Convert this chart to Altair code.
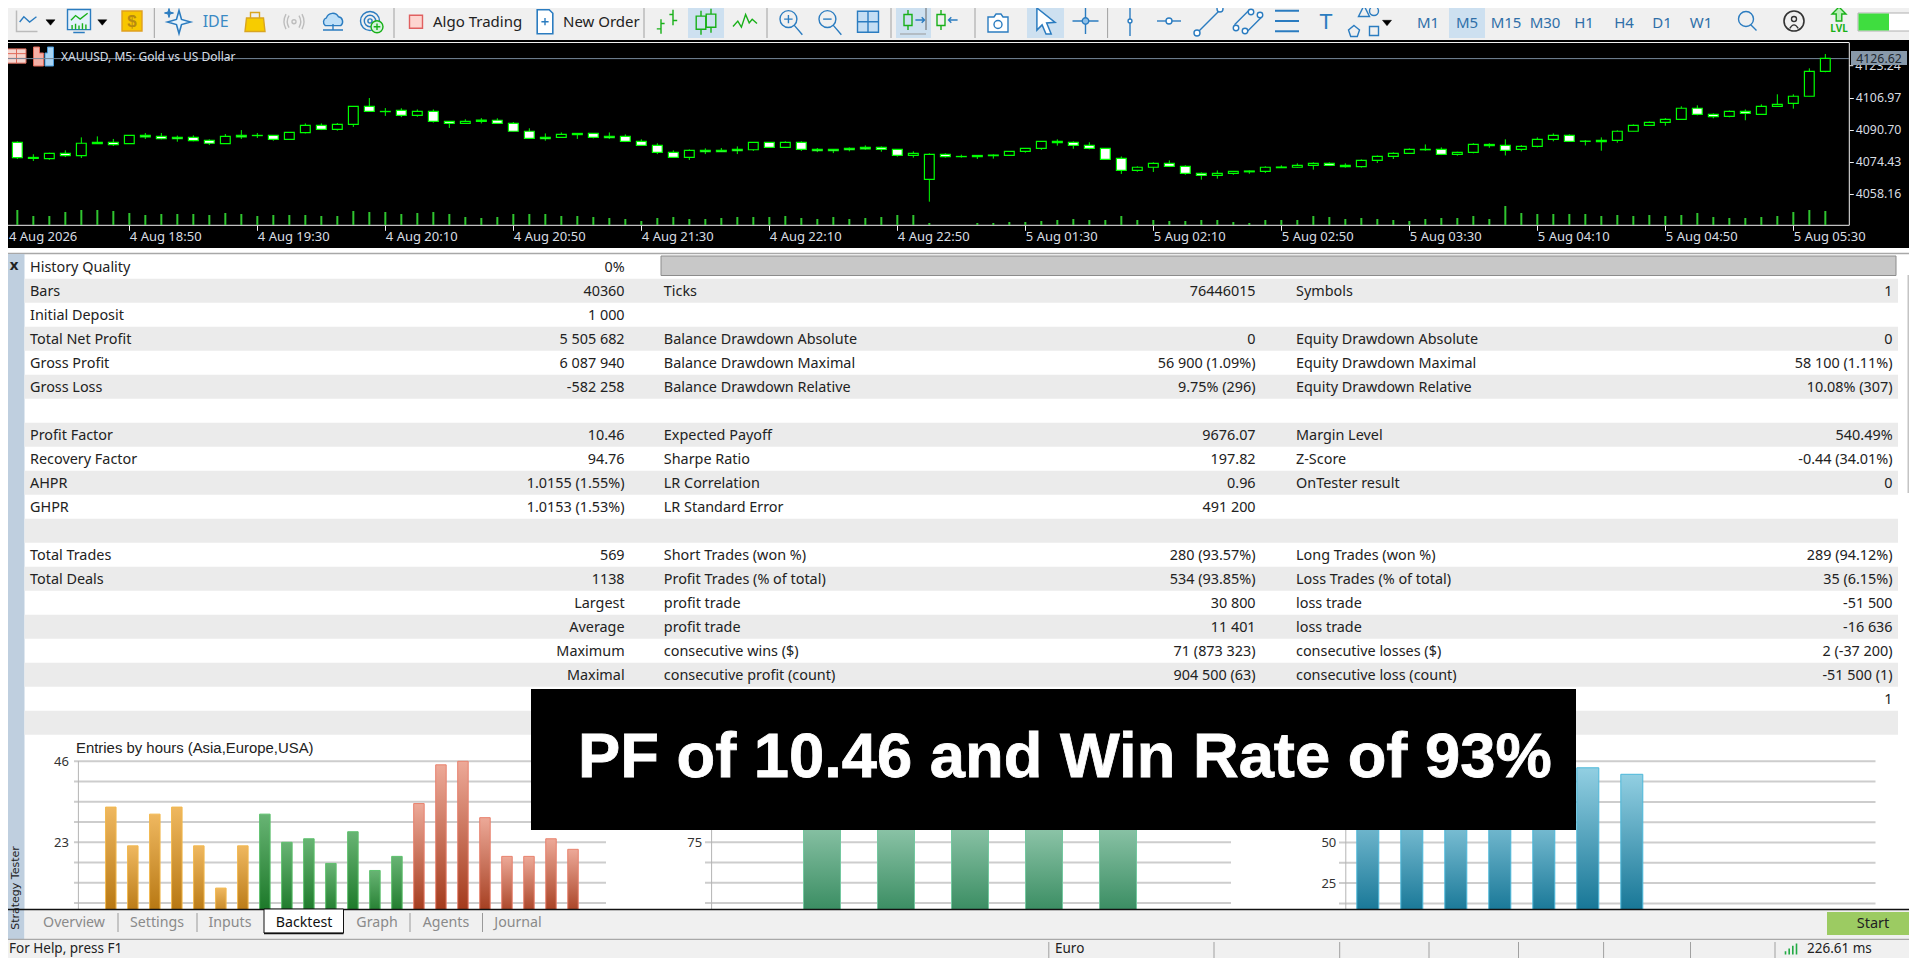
import json
import altair as alt
import pandas as pd

# ---------- candlestick data (XAUUSD M5) ----------
opens = [4085.3,4084.3,4076.6,4076.0,4078.7,4077.5,4084.3,4084.3,4083.6,4087.8,4087.3,4086.8,4086.8,4085.3,4083.6,4087.8,4087.8,4087.8,4085.8,4089.2,
4092.9,4090.9,4093.4,4102.6,4100.0,4100.5,4098.0,4100.0,4094.9,4093.9,4095.6,4095.5,4093.9,4089.9,4086.8,4086.8,4088.8,4088.8,4087.3,4087.3,
4084.8,4082.7,4079.2,4076.6,4080.2,4080.2,4080.7,4080.5,4084.3,4081.7,4084.3,4080.7,4080.7,4081.2,4081.7,4081.7,4080.7,4077.6,4065.4,4078.2,
4077.1,4077.6,4077.8,4077.6,4079.7,4081.2,4084.8,4084.3,4082.7,4081.2,4076.1,4070.0,4071.6,4073.6,4072.1,4068.5,4067.5,4068.5,4069.7,4069.5,
4071.7,4071.6,4072.6,4073.6,4072.6,4071.9,4075.1,4077.1,4078.7,4080.7,4080.7,4078.2,4079.2,4083.2,4082.7,4080.7,4082.2,4085.8,4087.8,4084.9,
4085.3,4085.3,4089.9,4092.9,4094.4,4096.0,4101.6,4098.5,4097.5,4100.0,4098.5,4102.6,4104.1,4107.7,4120.4]
highs = [4085.3,4084.8,4078.2,4079.0,4080.2,4086.8,4087.3,4086.0,4087.8,4089.0,4089.0,4087.7,4087.8,4085.8,4088.5,4090.5,4089.0,4087.8,4089.3,4093.9,
4093.9,4094.1,4102.6,4106.8,4101.7,4101.6,4101.0,4101.0,4094.9,4096.0,4096.6,4096.5,4094.6,4091.4,4088.8,4089.3,4088.8,4088.8,4089.3,4088.3,
4085.8,4083.8,4080.2,4080.7,4081.2,4081.4,4082.2,4084.3,4084.3,4084.8,4084.8,4081.4,4080.7,4081.7,4082.7,4082.2,4080.7,4079.7,4078.7,4078.7,
4078.0,4077.6,4078.2,4079.7,4081.2,4084.8,4085.8,4084.8,4084.3,4081.2,4077.1,4072.1,4074.1,4075.1,4072.6,4069.0,4070.0,4069.5,4070.0,4072.1,
4072.6,4073.6,4074.1,4074.1,4073.6,4075.6,4077.6,4079.2,4081.2,4083.2,4081.7,4079.5,4083.8,4083.8,4085.8,4082.9,4086.8,4088.8,4088.3,4085.4,
4086.8,4090.4,4093.4,4094.9,4096.6,4102.6,4103.1,4099.0,4100.5,4101.0,4103.6,4108.7,4108.7,4121.9,4129.2]
lows = [4084.1,4075.8,4074.8,4075.4,4076.8,4076.3,4083.6,4082.4,4083.6,4086.0,4085.8,4084.6,4084.8,4082.9,4083.6,4086.0,4086.5,4085.1,4085.8,4088.8,
4090.5,4090.2,4092.1,4100.0,4097.7,4097.1,4097.3,4094.3,4091.6,4093.6,4093.9,4093.6,4089.9,4086.0,4085.1,4086.6,4086.0,4086.3,4086.0,4084.4,
4082.4,4078.3,4076.3,4075.3,4078.3,4079.5,4078.3,4079.9,4081.5,4081.5,4079.9,4079.3,4078.8,4079.7,4080.5,4079.5,4077.0,4076.5,4054.1,4076.5,
4076.5,4075.8,4076.0,4077.5,4079.0,4080.4,4082.6,4081.0,4080.7,4075.6,4068.2,4069.3,4069.2,4071.7,4067.8,4065.3,4065.8,4067.8,4068.3,4068.7,
4071.4,4071.4,4070.4,4072.2,4071.4,4071.4,4073.8,4075.8,4078.7,4080.0,4077.8,4077.5,4078.7,4081.5,4077.6,4079.7,4081.7,4084.8,4084.6,4082.7,
4080.0,4084.1,4089.9,4092.9,4092.7,4096.0,4098.0,4096.5,4097.0,4095.5,4098.5,4102.6,4101.4,4107.7,4119.9]
closes = [4084.1,4076.5,4076.1,4078.7,4077.5,4083.8,4083.6,4083.1,4087.8,4087.1,4086.1,4086.1,4085.1,4083.8,4087.3,4087.1,4087.7,4085.8,4089.3,4092.9,
4090.9,4093.4,4102.6,4100.0,4099.9,4098.0,4100.0,4094.9,4093.9,4094.9,4094.9,4093.9,4089.9,4086.3,4086.1,4088.3,4088.2,4086.8,4086.6,4084.8,
4082.7,4079.2,4076.6,4080.2,4079.5,4079.5,4080.0,4084.3,4081.7,4084.3,4080.7,4080.0,4080.0,4080.5,4081.0,4080.7,4077.6,4078.7,4078.2,4077.0,
4077.0,4077.0,4077.5,4079.7,4081.2,4084.8,4084.1,4082.7,4081.2,4075.6,4070.0,4071.6,4073.6,4072.1,4068.5,4067.5,4068.5,4069.5,4069.3,4071.6,
4071.4,4072.6,4073.6,4072.6,4071.9,4075.1,4077.1,4078.7,4080.7,4080.5,4078.2,4079.2,4083.2,4082.6,4080.2,4082.2,4085.8,4087.8,4084.8,4084.8,
4084.6,4089.9,4092.9,4094.4,4096.0,4101.6,4098.5,4097.3,4100.0,4099.0,4102.6,4103.6,4107.7,4120.4,4127.0]
tick_volume = [0,45,27,27,39,45,45,42,36,30,33,33,33,30,36,33,27,30,30,30,27,27,42,39,39,33,36,39,33,24,
21,24,33,33,33,27,27,24,21,18,12,21,24,18,18,21,24,24,24,27,21,18,24,18,21,24,30,30,6,0,
0,6,6,9,9,12,15,18,15,15,27,15,15,12,12,15,15,9,6,15,15,15,27,24,18,21,18,15,12,18,
21,21,27,18,57,36,33,33,33,33,27,30,27,30,27,30,36,24,21,21,24,27,39,45,42]
price_ticks = [4106.97,4090.70,4074.43,4058.16]
hidden_price_tick = "4123.24"
time_labels = ["4 Aug 2026","4 Aug 18:50","4 Aug 19:30","4 Aug 20:10","4 Aug 20:50","4 Aug 21:30","4 Aug 22:10","4 Aug 22:50",
               "5 Aug 01:30","5 Aug 02:10","5 Aug 02:50","5 Aug 03:30","5 Aug 04:10","5 Aug 04:50","5 Aug 05:30"]

# ---------- report table ----------
a_labels = ["History Quality","Bars","Initial Deposit","Total Net Profit","Gross Profit","Gross Loss","","Profit Factor","Recovery Factor","AHPR","GHPR","",
            "Total Trades","Total Deals","","","","","",""]
a_values = ["0%","40360","1 000","5 505 682","6 087 940","-582 258","","10.46","94.76","1.0155 (1.55%)","1.0153 (1.53%)","",
            "569","1138","Largest","Average","Maximum","Maximal","",""]
b_labels = ["","Ticks","","Balance Drawdown Absolute","Balance Drawdown Maximal","Balance Drawdown Relative","","Expected Payoff","Sharpe Ratio","LR Correlation","LR Standard Error","",
            "Short Trades (won %)","Profit Trades (% of total)","profit trade","profit trade","consecutive wins ($)","consecutive profit (count)","",""]
b_values = ["","76446015","","0","56 900 (1.09%)","9.75% (296)","","9676.07","197.82","0.96","491 200","",
            "280 (93.57%)","534 (93.85%)","30 800","11 401","71 (873 323)","904 500 (63)","",""]
c_labels = ["","Symbols","","Equity Drawdown Absolute","Equity Drawdown Maximal","Equity Drawdown Relative","","Margin Level","Z-Score","OnTester result","","",
            "Long Trades (won %)","Loss Trades (% of total)","loss trade","loss trade","consecutive losses ($)","consecutive loss (count)","",""]
c_values = ["","1","","0","58 100 (1.11%)","10.08% (307)","","540.49%","-0.44 (34.01%)","0","","",
            "289 (94.12%)","35 (6.15%)","-51 500","-16 636","2 (-37 200)","-51 500 (1)","1",""]
band_rows = [1,3,5,7,9,11,13,15,17,19]

# ---------- small bar charts ----------
asia = [33,22,31,33,22,10,22]
europe = [31,23,24,17,26,15,19]
usa = [34,45,46,30,19,19,24,21]
weekdays = [118,112,115,110,114]
months = [80,76,72,78,75,96,92]
grid_hours = [46,40.25,34.5,28.75,23,17.25,11.5,5.75]
grid_days = [150,131.25,112.5,93.75,75,56.25,37.5,18.75]
grid_months = [100,87.5,75,62.5,50,37.5,25,12.5]

tabs = ["Overview","Settings","Inputs","Backtest","Graph","Agents","Journal"]
timeframes = ["M1","M5","M15","M30","H1","H4","D1","W1"]

UI = "Noto Sans"
HEIGHT = 950
WIDTH = 1901
layers = []

def R(x0, y0, x1, y1, fill, stroke=None, sw=1):
    kw = {"strokeWidth": sw, "stroke": stroke} if stroke else {}
    layers.append(alt.Chart().mark_rect(**kw).encode(
        x=alt.value(x0 - 8), x2=alt.value(x1 - 8), y=alt.value(y0 - 8), y2=alt.value(y1 - 8), fill=alt.value(fill)))

def L(x0, y0, x1, y1, color, sw=1):
    layers.append(alt.Chart().mark_rule(strokeWidth=sw, color=color).encode(
        x=alt.value(x0 - 8), x2=alt.value(x1 - 8), y=alt.value(y0 - 8), y2=alt.value(y1 - 8)))

def T(x, y, s, size=14, color="#222222", align="left", font=UI, weight="normal", angle=0, baseline="middle", **extra):
    kw = {"angle": angle} if angle else {}
    kw.update(extra)
    layers.append(alt.Chart().mark_text(text=s, fontSize=size, color=color, align=align, font=font,
                                        fontWeight=weight, baseline=baseline, **kw).encode(
        x=alt.value(x - 8), y=alt.value(y - 8)))

def I(cx, cy, path, px=24, stroke="#2b7cc0", fill="transparent", sw=1.4):
    layers.append(alt.Chart().mark_point(shape=path, size=px * px, opacity=1, strokeWidth=sw).encode(
        x=alt.value(cx - 8), y=alt.value(cy - 8), stroke=alt.value(stroke), fill=alt.value(fill)))

def circ(cx, cy, r):
    return f"M{cx-r},{cy} A{r},{r} 0 1,1 {cx+r},{cy} A{r},{r} 0 1,1 {cx-r},{cy} Z"

# ---------- toolbar ----------
R(0, 0, 1917, 40, "#f0f0f0")
L(0, 1.5, 1917, 1.5, "#b8b8b8", 1.5)
BLUE = "#2b7cc0"
GREEN = "#18b018"
TRI = "M-1,-0.6 L1,-0.6 L0,0.6 Z"
for sx in [154.3, 394, 644, 767, 891, 975, 1107.6]:
    L(sx, 5, sx, 38, "#a0a0a0", 1)
R(688, 4, 724, 38, "#cde0f0")
R(896, 4, 931, 38, "#cde0f0")
R(1027, 4, 1064, 38, "#cde0f0")
R(1449, 4, 1485, 38, "#cde0f0")

I(27, 21, "M-1,-1 L-1,1 L1,1", 21, "#bbbbbb", sw=1.5)
I(27, 21, "M-0.7,0.1 L-0.3,-0.4 L0.25,0.1 L0.9,-0.4", 21, BLUE)
I(50.5, 22.5, TRI, 9, "#000000", "#000000", 0.5)
I(79, 21, "M-1,-1 H1 V0.75 H-1 Z M-0.5,1 H0.5", 23, BLUE, "#e4f1fb")
I(79, 19, "M-0.7,0.1 L-0.3,-0.3 L0.1,0 L0.75,-0.5", 23, GREEN)
I(79, 25, "M-0.6,0.4 V0 M-0.3,0.4 V-0.1 M0,0.4 V0.05 M0.3,0.4 V-0.15 M0.6,0.4 V-0.05", 23, GREEN)
I(102.3, 22.5, TRI, 9, "#000000", "#000000", 0.5)
I(132, 21, "M-1,-1 H1 V1 H-1 Z", 20, "#e0a020", "#f7c600")
T(132, 22, "$", 17, "#b88a10", "center", "Liberation Sans", "bold")
STAR = "M0,-1 L0.22,-0.22 L1,0 L0.22,0.22 L0,1 L-0.22,0.22 L-1,0 L-0.22,-0.22 Z"
I(179, 22, STAR, 23, BLUE, "#e8f4fc", 1.6)
I(169, 13, STAR, 9, BLUE, BLUE, 1)
T(215.7, 21.7, "IDE", 16, "#3b8ac4", "center", UI)
I(255, 21.5, "M-0.85,-0.35 H0.85 L1,1 H-1 Z", 20, "#d9a520", "#f7cc00")
I(255, 21.5, "M-0.45,-0.35 V-0.9 H0.45 V-0.35", 20, "#d9a520")
I(294, 21.7, circ(0, 0, 0.2) + " M-0.5,-0.6 Q-0.85,0 -0.5,0.6 M0.5,-0.6 Q0.85,0 0.5,0.6 M-0.8,-0.75 Q-1.2,0 -0.8,0.75 M0.8,-0.75 Q1.2,0 0.8,0.75", 20, "#bdbdbd")
I(333, 19, "M-0.7,0.6 A0.4,0.4 0 0,1 -0.6,-0.1 A0.6,0.6 0 0,1 0.5,-0.2 A0.45,0.45 0 0,1 0.7,0.6 Z", 22, BLUE, "#bfe0f8")
I(333, 30, "M-1,0 H1 M0,-0.6 V0", 20, BLUE)
I(370, 21, circ(0, 0, 1) , 19, BLUE)
I(370, 21, circ(0, 0, 0.6), 19, BLUE)
I(370, 21, circ(0, 0, 0.22), 19, BLUE)
I(377, 26.7, circ(0, 0, 1), 12, GREEN, "#d4f3dc")
I(377, 26.7, "M-0.55,0 H0.55 M0,-0.55 V0.55", 12, GREEN)
I(416, 21.7, "M-1,-1 H1 V1 H-1 Z", 13, "#e06060", "#fdd5d0")
T(433, 21.7, "Algo Trading", 15)
I(545, 21.7, "M-0.65,-1 H0.35 L0.65,-0.7 V1 H-0.65 Z", 24, BLUE, "#ffffff", 1.6)
I(545, 21.7, "M-0.3,0 H0.3 M0,-0.3 V0.3", 24, BLUE)
T(563, 21.7, "New Order", 15)
I(667, 21.7, "M-0.5,-0.2 V1 M-0.85,0.6 H-0.5 M-0.5,0.15 H-0.2 M0.5,-1 V0.3 M0.2,-0.6 H0.5 M0.5,-0.1 H0.85", 24, GREEN)
for dx in (-5, 5):
    I(706 + dx, 21.7 + (1 if dx < 0 else -1), "M-0.4,-0.55 H0.4 V0.55 H-0.4 Z M0,-1 V-0.55 M0,0.55 V1", 24, GREEN)
I(745, 21.7, "M-1,0.4 L-0.6,-0.05 L-0.3,0.45 L0.05,-0.6 L0.35,0.1 L0.6,-0.2 L1,0.15", 24, GREEN)
for zx, pth in ((790, "M-0.45,-0.2 H0.2 M-0.12,-0.52 V0.12"), (829, "M-0.45,-0.2 H0.2")):
    I(zx, 21.7, circ(-0.12, -0.2, 0.65) + " M0.35,0.3 L0.95,1", 26, BLUE)
    I(zx, 21.7, pth, 26, BLUE)
I(868, 21.7, "M-1,-1 H1 V1 H-1 Z", 21, BLUE, "#c4def4")
I(868, 21.7, "M-1,0 H1 M0,-1 V1", 21, BLUE)
I(908, 20, "M-0.4,-0.55 H0.4 V0.55 H-0.4 Z M0,-1 V-0.55 M0,0.55 V1", 20, GREEN)
I(921, 20, "M-0.8,0 H0.5 M0.1,-0.4 L0.5,0 L0.1,0.4", 14, BLUE)
L(926, 8, 926, 30, "#666666", 1)
L(900, 34, 926, 34, "#999999", 1)
I(941, 20, "M-0.4,-0.55 H0.4 V0.55 H-0.4 Z M0,-1 V-0.55 M0,0.55 V1", 20, GREEN)
I(952, 20, "M0.8,0 H-0.5 M-0.1,-0.4 L-0.5,0 L-0.1,0.4", 14, BLUE)
I(998, 23, "M-1,-0.6 H-0.4 L-0.2,-0.9 H0.3 L0.5,-0.6 H1 V0.9 H-1 Z " + circ(0, 0.15, 0.4), 20, BLUE, "#ffffff")
I(1046, 21, "M-0.7,-1 L0.7,0.1 L0.05,0.15 L0.4,1 L0,1 L-0.3,0.3 L-0.7,0.7 Z", 26, BLUE, "#ffffff", 1.5)
I(1085.5, 21, "M-1,0 H1 M0,-1 V1", 26, BLUE)
I(1085.5, 21, circ(0, 0, 0.25), 26, BLUE, "#8fc0e8")
I(1130, 21, "M0,-1 V1", 30, BLUE)
I(1130, 21, circ(0, 0, 0.13), 30, BLUE, "#ffffff")
I(1169, 21, "M-1,0 H1", 24, BLUE)
I(1169, 21, circ(0, 0, 0.25), 24, BLUE, "#ffffff")
I(1209, 21, "M-0.75,0.75 L0.75,-0.75", 30, BLUE)
I(1197, 33, circ(0, 0, 1), 6, BLUE, "#ffffff")
I(1220, 9, circ(0, 0, 1), 6, BLUE, "#ffffff")
I(1248, 21, "M-0.9,0.25 L0.1,-0.75 M-0.1,0.75 L0.9,-0.25", 30, BLUE)
for ex, ey in ((1236, 28), (1251, 12), (1245, 31), (1260, 15)):
    I(ex, ey, circ(0, 0, 1), 5.5, BLUE, "#ffffff")
T(1326, 22, "T", 22, BLUE, "center", "Liberation Sans")
I(1287, 21, "M-1,-0.85 H1 M-1,0 H1 M-1,0.85 H1", 24, BLUE, sw=2)
I(1364, 11, "M0,-1 L1,1 H-1 Z", 11, BLUE)
I(1374, 11, circ(0, 0, 1), 9, BLUE)
I(1354, 31, "M0,-1 L1,-0.2 L0.6,1 H-0.6 L-1,-0.2 Z", 11, BLUE)
I(1374, 31, "M-1,-1 H1 V1 H-1 Z", 9, BLUE)
I(1387, 23, TRI, 9, "#000000", "#000000", 0.5)
for name, tx in zip(timeframes, [1428, 1467, 1506, 1545, 1584, 1624, 1662, 1701]):
    T(tx, 22.5, name, 15, "#2f6fa8", "center")
I(1747, 20, circ(-0.1, -0.1, 0.75) + " M0.4,0.5 L0.95,1.05", 20, BLUE)
I(1794, 21, circ(0, 0, 1), 20, "#333333", sw=1.6)
I(1794, 19, circ(0, 0, 0.5), 10, "#333333")
I(1794, 27, "M-0.6,0.2 Q0,-0.8 0.6,0.2", 14, "#333333")
I(1839, 14, "M0,-1 L1,0 H0.4 V1 H-0.4 V0 H-1 Z", 14, GREEN, "#b8f0b8")
T(1839, 28.5, "LVL", 10, GREEN, "center", UI, "bold")
R(1858, 13, 1913, 31, "#ffffff", "#b0b0b0", 1)
R(1858.5, 13.5, 1889, 30.5, "#3fdd3f")

# ---------- black chart window ----------
R(0, 40, 1917, 248, "#000000")
L(1.7, 42.5, 1849, 42.5, "#f0f0f0")
L(1.7, 42.5, 1.7, 225.3, "#f0f0f0")
L(1849.3, 42.5, 1849.3, 225.3, "#f0f0f0")
L(1.7, 225.3, 1849.3, 225.3, "#f0f0f0")
I(16.5, 56, "M-1,-0.75 H1 V0.75 H-1 Z M-1,-0.25 H1 M-1,0.25 H1 M0,-0.75 V0.75", 19, "#e06a5a", "#f4d6d0", 1)
I(43.5, 56, "M-1,-0.9 H-0.4 V-0.3 H0 V1 H-1 Z", 20, "#e06a5a", "#f4b0a6", 1)
I(43.5, 56, "M0.15,1 V-0.3 H0.4 V-0.9 H1 V1 Z", 20, "#4a9ad8", "#a8d4f4", 1)
L(0, 58.6, 1849, 58.6, "#75879a", 1)
T(61, 56.5, "XAUUSD, M5:  Gold vs US Dollar", 12, "#d6dde4")

candles = pd.DataFrame({"i": range(len(opens)), "o": opens, "h": highs, "l": lows, "c": closes, "v": tick_volume})
x_c = alt.Scale(domain=[0, 114], range=[1.33 - 8, 1825.33 - 8], nice=False, zero=False, padding=0)
y_c = alt.Scale(domain=[4058.16, 4123.24], range=[193.7 - 8, 65.7 - 8], nice=False, zero=False)
y_v = alt.Scale(domain=[0, 150], range=[225 - 8, 175 - 8], nice=False, zero=False)
label_expr = "%s[datum.value/8]" % json.dumps(time_labels)

layers.append(alt.Chart(candles).mark_rule(color="#2fc42f", strokeWidth=2).encode(
    x=alt.X("i:Q", scale=x_c, axis=None), y=alt.Y("v:Q", scale=y_v, axis=None), y2=alt.datum(0)))
layers.append(alt.Chart(candles).mark_rule(color="#00ff00", strokeWidth=1).encode(
    x=alt.X("i:Q", scale=x_c, axis=None), y=alt.Y("h:Q", scale=y_c, axis=None), y2="l:Q"))
layers.append(alt.Chart(candles).mark_bar(size=9.8, stroke="#00ff00", strokeWidth=1.2, orient="vertical").encode(
    x=alt.X("i:Q", scale=x_c, axis=alt.Axis(
        orient="bottom", offset=217.3 - HEIGHT, values=list(range(8, 113, 8)), labelExpr=label_expr, title=None,
        domain=False, grid=False, tickColor="#f0f0f0", tickSize=5, labelAlign="left", labelBaseline="middle",
        labelColor="#d8dde2", labelFont=UI, labelFontSize=13, labelPadding=6.5, labelOverlap=False, labelFlush=False, zindex=1)),
    y=alt.Y("o:Q", scale=y_c, axis=alt.Axis(
        orient="right", offset=1841.3 - WIDTH, values=price_ticks, title=None, format=".2f",
        domain=False, grid=False, tickColor="#f0f0f0", tickSize=4, labelColor="#d8dde2", labelFont=UI,
        labelFontSize=12.3, labelPadding=2, labelOverlap=False, labelFlush=False, zindex=1)),
    y2="c:Q",
    fill=alt.when("datum.o > datum.c").then(alt.value("#ffffff")).otherwise(alt.value("#000000"))))
T(9, 236.5, time_labels[0], 13, "#d8dde2")
L(1849.3, 65.7, 1853.3, 65.7, "#f0f0f0")
T(1855.3, 65.7, hidden_price_tick, 12.3, "#d8dde2")
R(1851, 51, 1907, 65, "#8899aa")
T(1879, 58.5, "4126.62", 12.3, "#202830", "center")

# ---------- report panel ----------
R(0, 250, 1917, 940, "#ffffff")
L(0, 253.5, 1917, 253.5, "#a8a8a8", 1.5)
R(0, 254, 24.5, 940, "#bfcfdf")
T(14, 265, "x", 15, "#222222", "center", UI, "bold")
T(16, 888, "Strategy Tester", 11, "#222222", "center", "DejaVu Sans", angle=270)

y_row = alt.Scale(domain=[0, 19], range=[266.7 - 8, 722.7 - 8], nice=False, zero=False)
layers.append(alt.Chart(pd.DataFrame({"r": band_rows})).transform_calculate(r0="datum.r-0.5", r1="datum.r+0.5").mark_rect(color="#ebebeb").encode(
    x=alt.value(24.5 - 8), x2=alt.value(1898 - 8), y=alt.Y("r0:Q", scale=y_row, axis=None), y2="r1:Q"))
R(661, 256, 1896, 275.5, "#c8c8c8", "#8c8c8c", 1)
L(1909, 275, 1909, 493, "#c4c4c4", 3)

for texts, px, al in ((a_labels, 30, "left"), (a_values, 624.6, "right"), (b_labels, 663.8, "left"),
                      (b_values, 1255.6, "right"), (c_labels, 1296, "left"), (c_values, 1892.6, "right")):
    df = pd.DataFrame({"r": range(20), "t": texts})
    df = df[df.t != ""]
    layers.append(alt.Chart(df).mark_text(align=al, baseline="middle", font=UI, fontSize=14.4, color="#222222", dy=1).encode(
        x=alt.value(px - 8), y=alt.Y("r:Q", scale=y_row, axis=None), text="t:N"))

# ---------- entry distribution charts ----------
def grad(top, bottom):
    return alt.LinearGradient(gradient="linear", x1=0, x2=0, y1=0, y2=1,
                              stops=[alt.GradientStop(color=top, offset=0), alt.GradientStop(color=bottom, offset=1)])

def panel(grid, x0, x1, axis_x, ticks, y_scale):
    layers.append(alt.Chart(pd.DataFrame({"g": grid})).mark_rule(color="#cdcdcd", strokeWidth=2).encode(
        x=alt.value(x0 - 8), x2=alt.value(x1 - 8),
        y=alt.Y("g:Q", scale=y_scale, axis=alt.Axis(
            orient="left", offset=-(axis_x - 8), values=ticks, ticks=False, domain=False, grid=False, title=None,
            labelFont=UI, labelFontSize=13, labelColor="#333333", labelPadding=10, labelOverlap=False, labelFlush=False, zindex=1))))
    L(axis_x, 761, axis_x, 909, "#b4b4b4", 1)

y_h = alt.Scale(domain=[0, 46], range=[923.3 - 8, 761.3 - 8], nice=False, zero=False)
y_d = alt.Scale(domain=[0, 150], range=[923.3 - 8, 761.3 - 8], nice=False, zero=False)
y_m = alt.Scale(domain=[0, 100], range=[923.7 - 8, 761.3 - 8], nice=False, zero=False)
panel(grid_hours, 74, 606, 78.4, [46, 23], y_h)
panel(grid_days, 705, 1231, 711.6, [75], y_d)
panel(grid_months, 1339, 1875.5, 1345.8, [50, 25], y_m)
T(76, 749, "Entries by hours (Asia,Europe,USA)", 14.9, "#222222", "left", "Liberation Sans")

x_h = alt.Scale(domain=[0, 21], range=[110.8 - 8, 573 - 8], nice=False, zero=False, padding=0)
x_d = alt.Scale(domain=[0, 6], range=[748 - 8, 1192 - 8], nice=False, zero=False, padding=0)
x_m = alt.Scale(domain=[0, 6], range=[1367.8 - 8, 1631.8 - 8], nice=False, zero=False, padding=0)

def bars(values, start, xs, ys, top, bottom, edge, size):
    df = pd.DataFrame({"k": [start + n for n in range(len(values))], "n": values})
    layers.append(alt.Chart(df).mark_bar(size=size, fill=grad(top, bottom), stroke=edge, strokeWidth=1, orient="vertical").encode(
        x=alt.X("k:Q", scale=xs, axis=None), y=alt.Y("n:Q", scale=ys, axis=None), y2=alt.datum(0)))

bars(asia, 0, x_h, y_h, "#efb860", "#b06f08", "#f2b84e", 10.5)
bars(europe, 7, x_h, y_h, "#68b474", "#11701e", "#5cc06c", 10.5)
bars(usa, 14, x_h, y_h, "#eda998", "#9c3010", "#e8826e", 10.5)
bars(weekdays, 1, x_d, y_d, "#a4d4bc", "#2e8558", "#74c8a0", 37)
bars(months, 0, x_m, y_m, "#92cfe2", "#0b6e8f", "#4cb8da", 22)

# ---------- tabs and status bar ----------
R(24.5, 909, 1917, 940, "#f0f0f0")
L(0, 909.5, 1917, 909.5, "#111111", 1.5)
R(264, 909, 343.5, 933, "#ffffff", "#111111", 1)
L(264, 933.5, 343.5, 933.5, "#111111", 1.5)
for tab, tx in zip(tabs, [74, 157, 230, 304, 377, 446, 518]):
    T(tx, 923, tab, 14.2, "#111111" if tab == "Backtest" else "#8a8a8a", "center")
for sx in [118, 197, 410, 482.5]:
    L(sx, 913, sx, 932, "#9a9a9a", 1)
R(1827, 912, 1917, 935, "#9ccb62")
T(1873, 924, "Start", 14.5, "#222222", "center")
L(0, 939.5, 1917, 939.5, "#a8a8a8", 1.5)
R(0, 940, 1917, 966, "#f0f0f0")
T(9, 949, "For Help, press F1", 13.5, "#222222")
T(1055, 949, "Euro", 13.5, "#222222")
for sx in [1048.8, 1214, 1339.7, 1429, 1518.5, 1603.6, 1690.5, 1775]:
    L(sx, 942, sx, 966, "#a0a0a0", 1)
I(1791, 949, "M-1,1 V0.4 M-0.33,1 V-0.1 M0.33,1 V-0.6 M1,1 V-1", 11, "#22aa44", sw=1.6)
T(1807, 949, "226.61 ms", 13.5, "#222222")

# ---------- headline banner ----------
R(531, 689, 1576, 830, "#000000")
T(578, 777, "PF of 10.46 and Win Rate of 93%", 63.3, "#ffffff", "left", "Liberation Sans", "bold", baseline="alphabetic",
  stroke="#ffffff", strokeWidth=0.8)

chart = (alt.layer(*layers)
         .resolve_scale(x="independent", y="independent")
         .resolve_axis(x="independent", y="independent")
         .properties(width=WIDTH, height=HEIGHT, autosize="none", padding=0, background="#ffffff")
         .configure_view(strokeWidth=0))
chart.save("out.html", embed_options={"renderer": "svg", "actions": False})
